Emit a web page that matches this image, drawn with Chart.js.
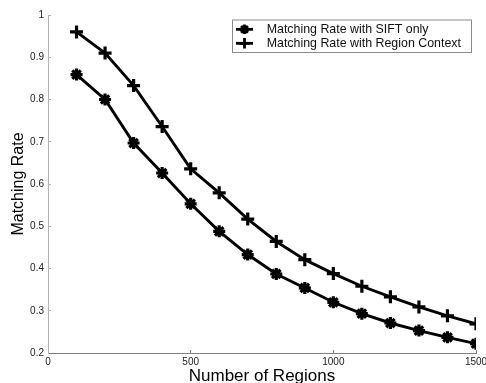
<!DOCTYPE html>
<html>
<head>
<meta charset="utf-8">
<script src="https://cdn.jsdelivr.net/npm/chart.js@4/dist/chart.umd.min.js"></script>
<style>
  html, body { margin: 0; padding: 0; background: #fff; overflow: hidden; }
  canvas { display: block; }
</style>
</head>
<body>
<canvas id="c" width="486" height="383"></canvas>
<script>
const regionCounts = [100, 200, 300, 400, 500, 600, 700, 800, 900, 1000, 1100, 1200, 1300, 1400, 1500];
const siftOnly = [0.859, 0.800, 0.697, 0.626, 0.553, 0.488, 0.433, 0.387, 0.354, 0.320, 0.293, 0.271, 0.253, 0.237, 0.222];
const regionContext = [0.960, 0.910, 0.833, 0.736, 0.636, 0.579, 0.517, 0.464, 0.421, 0.388, 0.358, 0.333, 0.309, 0.288, 0.269];
const seriesLabels = ['Matching Rate with SIFT only', 'Matching Rate with Region Context'];
const xTickValues = [0, 500, 1000, 1500];
const xTickLabels = ['0', '500', '1000', '1500'];
const yTickValues = [0.2, 0.3, 0.4, 0.5, 0.6, 0.7, 0.8, 0.9, 1.0];
const yTickLabels = ['0.2', '0.3', '0.4', '0.5', '0.6', '0.7', '0.8', '0.9', '1'];
const xTitle = 'Number of Regions';
const yTitle = 'Matching Rate';

const FONT = '"Liberation Sans", Arial, Helvetica, sans-serif';

const toPoints = (ys) => regionCounts.map((x, i) => ({ x: x, y: ys[i] }));

const legendPlugin = {
  id: 'boxLegend',
  afterDraw(chart) {
    const ctx = chart.ctx;
    const area = chart.chartArea;
    const right = area.right - 4.5;
    const left = 232.5;
    const top = area.top + 5;
    const h = 32.5;
    ctx.save();
    ctx.fillStyle = '#ffffff';
    ctx.fillRect(left, top, right - left, h);
    ctx.strokeStyle = '#8c8c8c';
    ctx.lineWidth = 1;
    ctx.strokeRect(left, top, right - left, h);
    chart.data.datasets.forEach((ds, i) => {
      const y = top + 9.3 + i * 14;
      ctx.strokeStyle = '#000';
      ctx.lineWidth = 2.8;
      ctx.beginPath();
      ctx.moveTo(left + 3.5, y);
      ctx.lineTo(left + 20.5, y);
      ctx.stroke();
      Chart.helpers.drawPoint(ctx, {
        pointStyle: ds.pointStyle,
        radius: ds.pointRadius * 0.8,
        borderWidth: ds.pointBorderWidth,
        rotation: 0
      }, left + 12, y);
      ctx.fillStyle = '#111';
      ctx.font = '12.4px ' + FONT;
      ctx.textBaseline = 'middle';
      ctx.textAlign = 'left';
      ctx.fillText(ds.label, left + 34.2, y + 0.5);
    });
    ctx.restore();
  }
};

new Chart(document.getElementById('c'), {
  type: 'line',
  data: {
    datasets: [
      {
        label: seriesLabels[0],
        data: toPoints(siftOnly),
        borderColor: '#000',
        backgroundColor: '#000',
        borderWidth: 2.9,
        pointStyle: 'star',
        pointRadius: 6,
        pointBorderWidth: 3.2,
        pointBorderColor: '#000',
        pointBackgroundColor: '#000',
        tension: 0,
        fill: false
      },
      {
        label: seriesLabels[1],
        data: toPoints(regionContext),
        borderColor: '#000',
        backgroundColor: '#000',
        borderWidth: 2.9,
        pointStyle: 'cross',
        pointRadius: 6.5,
        pointBorderWidth: 3.2,
        pointBorderColor: '#000',
        pointBackgroundColor: '#000',
        tension: 0,
        fill: false
      }
    ]
  },
  options: {
    responsive: false,
    animation: false,
    devicePixelRatio: 1,
    layout: { padding: { top: 15, left: 0, right: 10, bottom: 0 } },
    plugins: {
      legend: { display: false },
      tooltip: { enabled: false }
    },
    scales: {
      x: {
        type: 'linear',
        min: 0,
        max: 1500,
        afterBuildTicks(scale) { scale.ticks = xTickValues.map(v => ({ value: v })); },
        afterFit(scale) {
          scale.height = 30;
          scale.paddingLeft = 0; scale.paddingRight = 0;
          scale.paddingTop = 0; scale.paddingBottom = 0;
        },
        ticks: {
          callback: (v, i) => xTickLabels[i],
          font: { family: FONT, size: 10 },
          color: '#222',
          padding: 6,
          maxRotation: 0,
          autoSkip: false
        },
        grid: { drawOnChartArea: false, drawTicks: true, tickLength: -3, tickColor: '#808080', tickWidth: 1 },
        border: { display: true, color: '#808080', width: 1 },
        title: {
          display: true,
          text: xTitle,
          font: { family: FONT, size: 17, lineHeight: 1 },
          color: '#000',
          padding: { top: 0, bottom: -2 }
        }
      },
      y: {
        type: 'linear',
        min: 0.2,
        max: 1,
        afterBuildTicks(scale) { scale.ticks = yTickValues.map(v => ({ value: v })); },
        afterFit(scale) {
          scale.width = 48;
          scale.paddingLeft = 0; scale.paddingRight = 0;
          scale.paddingTop = 0; scale.paddingBottom = 0;
        },
        ticks: {
          callback: (v, i) => yTickLabels[i],
          font: { family: FONT, size: 10 },
          color: '#222',
          padding: 7,
          autoSkip: false
        },
        grid: { drawOnChartArea: false, drawTicks: true, tickLength: -3, tickColor: '#b4b4b4', tickWidth: 1 },
        border: { display: true, color: '#b4b4b4', width: 1 },
        title: {
          display: true,
          text: yTitle,
          font: { family: FONT, size: 16, lineHeight: 1.2 },
          color: '#000',
          padding: { top: 9, bottom: 0 }
        }
      }
    }
  },
  plugins: [legendPlugin]
});
</script>
</body>
</html>
